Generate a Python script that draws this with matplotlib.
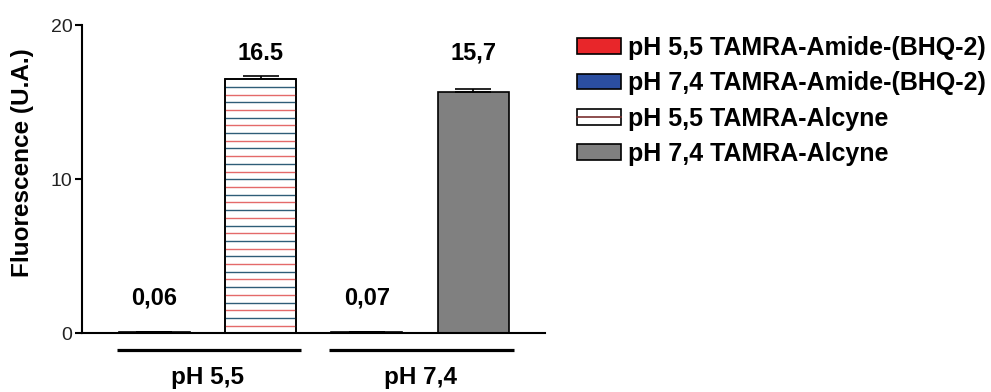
import matplotlib
matplotlib.use("Agg")
import numpy as np
import matplotlib.pyplot as plt
from matplotlib.patches import Patch
from matplotlib.lines import Line2D
from matplotlib.legend_handler import HandlerTuple

plt.rcParams['font.family'] = ['Liberation Sans', 'DejaVu Sans']

# data
series = ['pH 5,5 TAMRA-Amide-(BHQ-2)', 'pH 7,4 TAMRA-Amide-(BHQ-2)',
          'pH 5,5 TAMRA-Alcyne', 'pH 7,4 TAMRA-Alcyne']
values = [0.06, 16.5, 0.07, 15.7]
errors = [0.01, 0.22, 0.01, 0.15]
value_labels = ['0,06', '16.5', '0,07', '15,7']
groups = ['pH 5,5', 'pH 7,4']
yticks = [0, 10, 20]

red = '#e8262a'
blue = '#2b4ea0'
grey = '#808080'
hatch_colors = ['#e46a6a', '#2f5d78']

fig = plt.figure(figsize=(9.91, 3.92), dpi=100)
ax = fig.add_axes([0.083, 0.1497, 0.467, 0.7858])

pos = [0, 1, 2, 3]
w = 0.668

# small bars
ax.bar(pos[0], values[0], w, color=red, edgecolor='black', linewidth=1.2)
ax.bar(pos[2], values[2], w, color=blue, edgecolor='black', linewidth=1.2)
# striped bar: horizontal lines alternating red / dark blue
ax.bar(pos[1], values[1], w, color='white', edgecolor='black', linewidth=1.2, zorder=2)
stripes = np.arange(0.5, values[1], 0.5)
ax.hlines(stripes, pos[1] - w / 2, pos[1] + w / 2, linewidth=1.0, zorder=2.5,
          colors=[hatch_colors[i % 2] for i in range(len(stripes))])
ax.bar(pos[1], values[1], w, color='none', edgecolor='black', linewidth=1.2, zorder=3)
# grey bar
ax.bar(pos[3], values[3], w, color=grey, edgecolor='black', linewidth=1.2)

ax.errorbar(pos, values, yerr=[[0] * 4, errors], fmt='none', ecolor='black',
            elinewidth=1.2, capsize=13, capthick=1.2, zorder=1)

label_y = [2.27, 18.2, 2.27, 18.2]
for x, ly, t in zip(pos, label_y, value_labels):
    ax.text(x, ly, t, ha='center', va='center', fontsize=17, fontweight='bold')

ax.set_xlim(-0.68, 3.677)
ax.set_ylim(0, 20)
ax.set_yticks(yticks)
ax.set_xticks([])
ax.spines['top'].set_visible(False)
ax.spines['right'].set_visible(False)
ax.spines['left'].set_linewidth(1.5)
ax.spines['bottom'].set_linewidth(1.5)
ax.tick_params(axis='y', length=5, width=1.5, pad=2, labelsize=14, labelcolor='#222222')

# group brackets and labels
for g, name in enumerate(groups):
    a, b = pos[2 * g], pos[2 * g + 1]
    ax.plot([a - w / 2 - 0.02, b + w / 2 + 0.05], [-1.09, -1.09], color='black',
            linewidth=2.3, clip_on=False, solid_capstyle='butt')
    ax.text((a + b) / 2, -2.9, name, ha='center', va='center', fontsize=17.5,
            fontweight='bold', clip_on=False)

fig.text(0.023, 0.584, 'Fluorescence (U.A.)', rotation=90, ha='center', va='center',
         fontsize=17.5, fontweight='bold')

handles = [
    Patch(facecolor=red, edgecolor='black', linewidth=1.2),
    Patch(facecolor=blue, edgecolor='black', linewidth=1.2),
    (Patch(facecolor='white', edgecolor='black', linewidth=1.2),
     Line2D([], [], color='#7a3030', linewidth=1.2)),
    Patch(facecolor=grey, edgecolor='black', linewidth=1.2),
]
leg = fig.legend(handles, series, loc='upper left', bbox_to_anchor=(577 / 991, 0.908),
                 bbox_transform=fig.transFigure, frameon=False, borderpad=0,
                 borderaxespad=0, handlelength=1.76, handleheight=0.6,
                 handletextpad=0.3, labelspacing=0.45,
                 prop={'size': 18, 'weight': 'bold'},
                 handler_map={tuple: HandlerTuple(ndivide=1)})

fig.savefig('out.png', dpi=100)
